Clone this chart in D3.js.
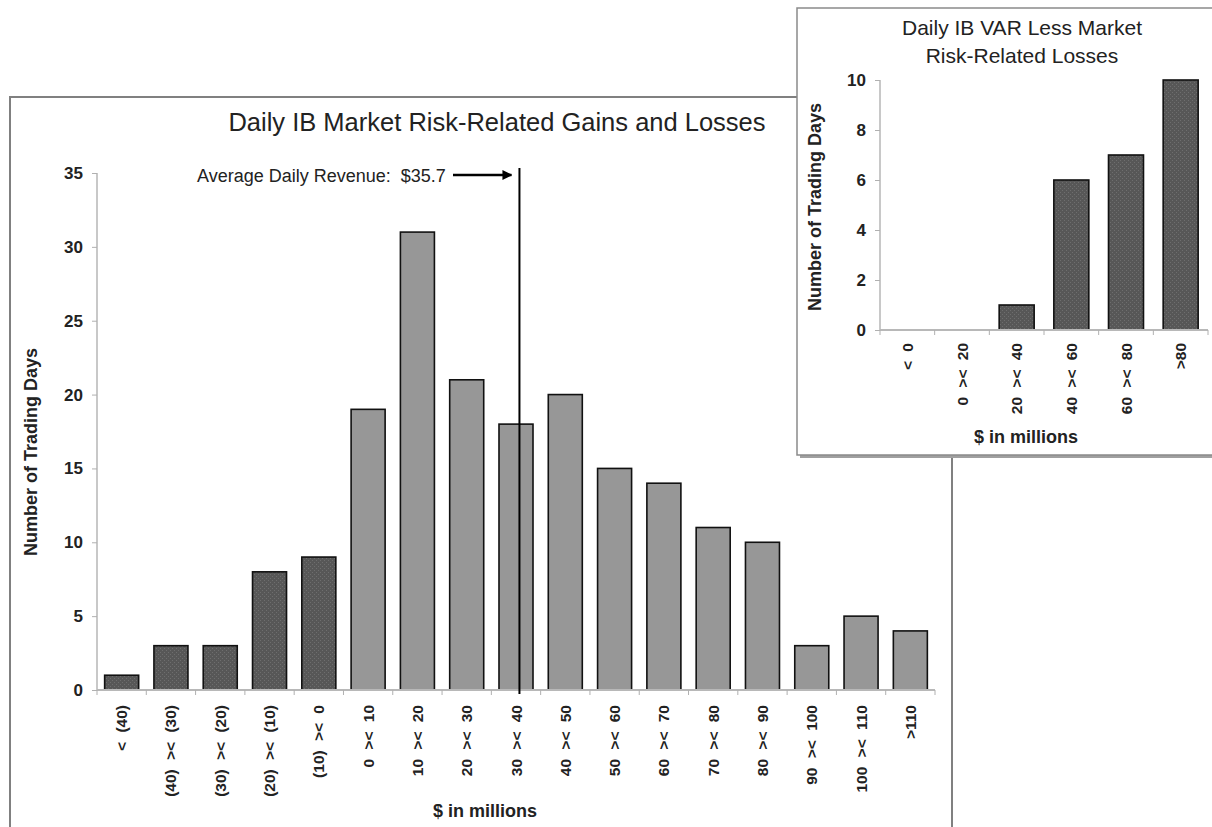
<!DOCTYPE html>
<html><head><meta charset="utf-8">
<script src="https://cdn.jsdelivr.net/npm/d3@7"></script>
<style>
body{margin:0;background:#fff;}
svg{display:block;font-family:"Liberation Sans",Arial,sans-serif;}
</style></head>
<body>
<svg id="c" width="1212" height="827"></svg>
<script>
// ---- data ----
const mainCategories = ["< (40)","(40) >< (30)","(30) >< (20)","(20) >< (10)","(10) >< 0","0 >< 10","10 >< 20","20 >< 30","30 >< 40","40 >< 50","50 >< 60","60 >< 70","70 >< 80","80 >< 90","90 >< 100","100 >< 110",">110"];
const mainValues = [1,3,3,8,9,19,31,21,18,20,15,14,11,10,3,5,4];
const mainLossFlags = [true,true,true,true,true,false,false,false,false,false,false,false,false,false,false,false,false];
const mainYTicks = [0,5,10,15,20,25,30,35];
const avgRevenue = 35.7;
const avgBinIndex = 8, avgBinLow = 30, binWidth = 10;

const insetCategories = ["< 0","0 >< 20","20 >< 40","40 >< 60","60 >< 80",">80"];
const insetValues = [0,0,1,6,7,10];
const insetYTicks = [0,2,4,6,8,10];

const svg = d3.select("#c");
const defs = svg.append("defs");
const pat = defs.append("pattern").attr("id","dots").attr("patternUnits","userSpaceOnUse").attr("width",4).attr("height",4);
pat.append("rect").attr("width",4).attr("height",4).attr("fill","#575757");
pat.append("rect").attr("x",0).attr("y",0).attr("width",1).attr("height",1).attr("fill","#6e6e6e");
pat.append("rect").attr("x",2).attr("y",2).attr("width",1).attr("height",1).attr("fill","#6e6e6e");

// ---- main frame ----
svg.append("rect").attr("x",10).attr("y",97).attr("width",942).attr("height",760)
  .attr("fill","#fff").attr("stroke","#808080").attr("stroke-width",2);

const mx = d3.scaleBand().domain(mainCategories).range([97,935]).paddingInner(0.31).paddingOuter(0.155);
const my = d3.scaleLinear().domain([0,35]).range([690,173]);

const g = svg.append("g");
// title
g.append("text").attr("x",497).attr("y",131).attr("text-anchor","middle")
  .attr("font-size",25.5).attr("fill","#222").text("Daily IB Market Risk-Related Gains and Losses");

// y axis
const yAx = g.append("g").attr("transform","translate(97,0)")
  .call(d3.axisLeft(my).tickValues(mainYTicks).tickSize(5).tickPadding(9));
yAx.select(".domain").attr("stroke","#c8c8c8").attr("stroke-width",2).attr("d","M-0,173V690");
yAx.selectAll(".tick line").attr("stroke","#b0b0b0");
yAx.selectAll(".tick text").attr("font-size",17).attr("font-weight","bold").attr("fill","#222").attr("font-family","Liberation Sans, Arial, sans-serif");

// bars
g.selectAll("rect.bar").data(mainValues).join("rect").attr("class","bar")
  .attr("x",(d,i)=>mx(mainCategories[i])).attr("width",mx.bandwidth())
  .attr("y",d=>my(d)).attr("height",d=>my(0)-my(d))
  .attr("fill",(d,i)=>mainLossFlags[i]?"url(#dots)":"#979797")
  .attr("stroke","#111").attr("stroke-width",1.6);

// x axis
const step = mx.step();
const xb = g.append("g");
xb.append("line").attr("x1",97).attr("x2",935).attr("y1",my(0)).attr("y2",my(0)).attr("stroke","#b8b8b8").attr("stroke-width",2);
const bounds = mainCategories.map(c=>mx(c)-step*mx.paddingInner()/2).concat([935]);
xb.selectAll("line.t").data(bounds).join("line").attr("class","t")
  .attr("x1",d=>d).attr("x2",d=>d).attr("y1",my(0)).attr("y2",my(0)+5).attr("stroke","#b0b0b0");
xb.selectAll("text").data(mainCategories).join("text")
  .attr("transform",d=>`translate(${mx(d)+mx.bandwidth()/2+5.5},705) rotate(-90)`)
  .attr("text-anchor","end").attr("font-size",15.5).attr("font-weight","bold").attr("fill","#222")
  .attr("word-spacing",5).text(d=>d);

g.append("text").attr("x",485).attr("y",817).attr("text-anchor","middle").attr("font-size",18)
  .attr("font-weight","bold").attr("fill","#222").text("$ in millions");
g.append("text").attr("transform","translate(37,452) rotate(-90)").attr("text-anchor","middle")
  .attr("font-size",18).attr("font-weight","bold").attr("fill","#222").text("Number of Trading Days");

// average line
const avgX = mx(mainCategories[avgBinIndex]) - step*mx.paddingInner()/2 + (avgRevenue-avgBinLow)/binWidth*step;
g.append("line").attr("x1",avgX).attr("x2",avgX).attr("y1",168).attr("y2",my(0)+4).attr("stroke","#000").attr("stroke-width",2);
g.append("text").attr("x",197).attr("y",182).attr("font-size",18).attr("fill","#222")
  .style("white-space","pre").text("Average Daily Revenue:  $" + avgRevenue);
defs.append("marker").attr("id","arr").attr("viewBox","0 0 10 10").attr("refX",9).attr("refY",5)
  .attr("markerWidth",4).attr("markerHeight",4).attr("orient","auto")
  .append("path").attr("d","M0,0L10,5L0,10z").attr("fill","#000");
g.append("line").attr("x1",453).attr("x2",avgX-8).attr("y1",175).attr("y2",175)
  .attr("stroke","#000").attr("stroke-width",2.5).attr("marker-end","url(#arr)");

// ---- inset ----
svg.append("rect").attr("x",800).attr("y",11).attr("width",420).attr("height",447).attr("fill","#a0a0a0");
svg.append("rect").attr("x",797).attr("y",8).attr("width",420).attr("height",447)
  .attr("fill","#fff").attr("stroke","#8a8a8a").attr("stroke-width",1.5);

const ix = d3.scaleBand().domain(insetCategories).range([880,1208]).paddingInner(0.36).paddingOuter(0.18);
const iy = d3.scaleLinear().domain([0,10]).range([330,80]);
const gi = svg.append("g");
gi.append("text").attr("x",1022).attr("y",35).attr("text-anchor","middle").attr("font-size",21).attr("fill","#222").text("Daily IB VAR Less Market");
gi.append("text").attr("x",1022).attr("y",63).attr("text-anchor","middle").attr("font-size",21).attr("fill","#222").text("Risk-Related Losses");

const iyAx = gi.append("g").attr("transform","translate(880,0)")
  .call(d3.axisLeft(iy).tickValues(insetYTicks).tickSize(5).tickPadding(9));
iyAx.select(".domain").attr("stroke","#c8c8c8").attr("stroke-width",2).attr("d","M0,80V330");
iyAx.selectAll(".tick line").attr("stroke","#b0b0b0");
iyAx.selectAll(".tick text").attr("font-size",17).attr("font-weight","bold").attr("fill","#222").attr("font-family","Liberation Sans, Arial, sans-serif");

gi.selectAll("rect.ibar").data(insetValues).join("rect").attr("class","ibar")
  .attr("x",(d,i)=>ix(insetCategories[i])).attr("width",ix.bandwidth())
  .attr("y",d=>iy(d)).attr("height",d=>iy(0)-iy(d))
  .attr("fill","url(#dots)").attr("stroke","#111").attr("stroke-width",1.6)
  .attr("display",d=>d>0?null:"none");

const istep = ix.step();
gi.append("line").attr("x1",880).attr("x2",1208).attr("y1",iy(0)).attr("y2",iy(0)).attr("stroke","#b8b8b8").attr("stroke-width",2);
const ib = insetCategories.map(c=>ix(c)-istep*ix.paddingInner()/2).concat([1208]);
gi.selectAll("line.t").data(ib).join("line").attr("class","t")
  .attr("x1",d=>d).attr("x2",d=>d).attr("y1",iy(0)).attr("y2",iy(0)+5).attr("stroke","#b0b0b0");
gi.selectAll("text.xl").data(insetCategories).join("text").attr("class","xl")
  .attr("transform",d=>`translate(${ix(d)+ix.bandwidth()/2+5.5},343) rotate(-90)`)
  .attr("text-anchor","end").attr("font-size",15.5).attr("font-weight","bold").attr("fill","#222")
  .attr("word-spacing",5).text(d=>d);
gi.append("text").attr("x",1026).attr("y",443).attr("text-anchor","middle").attr("font-size",18)
  .attr("font-weight","bold").attr("fill","#222").text("$ in millions");
gi.append("text").attr("transform","translate(821,207) rotate(-90)").attr("text-anchor","middle")
  .attr("font-size",18).attr("font-weight","bold").attr("fill","#222").text("Number of Trading Days");
</script>
</body></html>
